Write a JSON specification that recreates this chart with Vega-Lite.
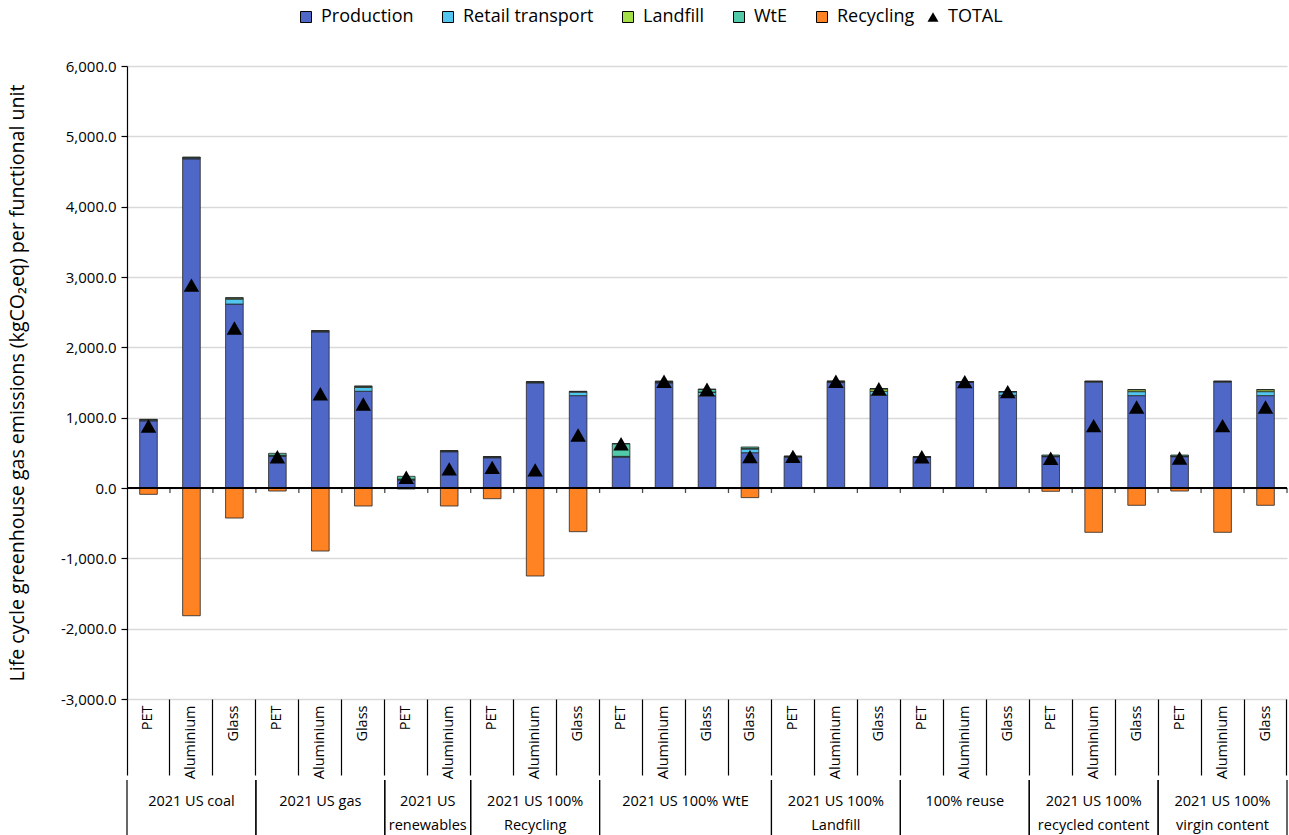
{
  "$schema": "https://vega.github.io/schema/vega-lite/v6.json",
  "padding": {"left": 7, "top": 8, "right": 2, "bottom": 0},
  "background": "white",
  "config": {"view": {"stroke": null}, "font": "Open Sans"},
  "spacing": 0,
  "datasets": {
    "bars": [
      {"key": "coal|PET", "i": 1, "Production": 955, "Retail transport": 10, "Landfill": 7, "WtE": 5, "Recycling": -90, "TOTAL": 882},
      {"key": "coal|Aluminium", "i": 2, "Production": 4680, "Retail transport": 12, "Landfill": 6, "WtE": 8, "Recycling": -1816, "TOTAL": 2885},
      {"key": "coal|Glass", "i": 3, "Production": 2615, "Retail transport": 71, "Landfill": 15, "WtE": 5, "Recycling": -427, "TOTAL": 2275},
      {"key": "gas|PET", "i": 4, "Production": 450, "Retail transport": 10, "Landfill": 5, "WtE": 28, "Recycling": -43, "TOTAL": 445},
      {"key": "gas|Aluminium", "i": 5, "Production": 2220, "Retail transport": 10, "Landfill": 5, "WtE": 2, "Recycling": -896, "TOTAL": 1340},
      {"key": "gas|Glass", "i": 6, "Production": 1375, "Retail transport": 55, "Landfill": 15, "WtE": 5, "Recycling": -256, "TOTAL": 1194},
      {"key": "renew|PET", "i": 7, "Production": 112, "Retail transport": 10, "Landfill": 4, "WtE": 40, "Recycling": -14, "TOTAL": 152},
      {"key": "renew|Aluminium", "i": 8, "Production": 515, "Retail transport": 10, "Landfill": 5, "WtE": 0, "Recycling": -256, "TOTAL": 272},
      {"key": "recyc|PET", "i": 9, "Production": 430, "Retail transport": 10, "Landfill": 6, "WtE": 0, "Recycling": -152, "TOTAL": 293},
      {"key": "recyc|Aluminium", "i": 10, "Production": 1495, "Retail transport": 10, "Landfill": 5, "WtE": 0, "Recycling": -1251, "TOTAL": 258},
      {"key": "recyc|Glass", "i": 11, "Production": 1313, "Retail transport": 50, "Landfill": 10, "WtE": 0, "Recycling": -621, "TOTAL": 754},
      {"key": "wte|PET", "i": 12, "Production": 440, "Retail transport": 10, "Landfill": 0, "WtE": 180, "Recycling": 0, "TOTAL": 630},
      {"key": "wte|Aluminium", "i": 13, "Production": 1495, "Retail transport": 10, "Landfill": 0, "WtE": 12, "Recycling": 0, "TOTAL": 1517},
      {"key": "wte|Glass", "i": 14, "Production": 1308, "Retail transport": 55, "Landfill": 0, "WtE": 40, "Recycling": 0, "TOTAL": 1403},
      {"key": "wte2|Glass", "i": 15, "Production": 502, "Retail transport": 52, "Landfill": 10, "WtE": 19, "Recycling": -137, "TOTAL": 446},
      {"key": "landfill|PET", "i": 16, "Production": 438, "Retail transport": 10, "Landfill": 2, "WtE": 0, "Recycling": 0, "TOTAL": 450},
      {"key": "landfill|Aluminium", "i": 17, "Production": 1500, "Retail transport": 10, "Landfill": 7, "WtE": 0, "Recycling": 0, "TOTAL": 1517},
      {"key": "landfill|Glass", "i": 18, "Production": 1320, "Retail transport": 55, "Landfill": 37, "WtE": 0, "Recycling": 0, "TOTAL": 1412},
      {"key": "reuse|PET", "i": 19, "Production": 435, "Retail transport": 10, "Landfill": 0, "WtE": 0, "Recycling": 0, "TOTAL": 445},
      {"key": "reuse|Aluminium", "i": 20, "Production": 1502, "Retail transport": 10, "Landfill": 0, "WtE": 0, "Recycling": 0, "TOTAL": 1512},
      {"key": "reuse|Glass", "i": 21, "Production": 1318, "Retail transport": 52, "Landfill": 0, "WtE": 0, "Recycling": 0, "TOTAL": 1370},
      {"key": "rc|PET", "i": 22, "Production": 445, "Retail transport": 10, "Landfill": 0, "WtE": 14, "Recycling": -47, "TOTAL": 422},
      {"key": "rc|Aluminium", "i": 23, "Production": 1505, "Retail transport": 10, "Landfill": 2, "WtE": 0, "Recycling": -630, "TOTAL": 887},
      {"key": "rc|Glass", "i": 24, "Production": 1313, "Retail transport": 57, "Landfill": 28, "WtE": 0, "Recycling": -246, "TOTAL": 1152},
      {"key": "vc|PET", "i": 25, "Production": 445, "Retail transport": 10, "Landfill": 0, "WtE": 14, "Recycling": -43, "TOTAL": 426},
      {"key": "vc|Aluminium", "i": 26, "Production": 1505, "Retail transport": 10, "Landfill": 2, "WtE": 0, "Recycling": -630, "TOTAL": 887},
      {"key": "vc|Glass", "i": 27, "Production": 1313, "Retail transport": 57, "Landfill": 28, "WtE": 0, "Recycling": -246, "TOTAL": 1152}
    ],
    "groups": [
      {"g": "2021 US coal", "s": 0, "e": 3, "m": 1.5},
      {"g": "2021 US gas", "s": 3, "e": 6, "m": 4.5},
      {"g": "2021 US\nrenewables", "s": 6, "e": 8, "m": 7},
      {"g": "2021 US 100%\nRecycling", "s": 8, "e": 11, "m": 9.5},
      {"g": "2021 US 100% WtE", "s": 11, "e": 15, "m": 13},
      {"g": "2021 US 100%\nLandfill", "s": 15, "e": 18, "m": 16.5},
      {"g": "100% reuse", "s": 18, "e": 21, "m": 19.5},
      {"g": "2021 US 100%\nrecycled content", "s": 21, "e": 24, "m": 22.5},
      {"g": "2021 US 100%\nvirgin content", "s": 24, "e": 27, "m": 25.5}
    ]
  },
  "vconcat": [
    {
      "width": 1160,
      "height": 633,
      "data": {"name": "bars"},
      "layer": [
        {
          "transform": [
            {"fold": ["Production", "Retail transport", "Landfill", "WtE", "Recycling"], "as": ["component", "value"]},
            {"window": [{"op": "row_number", "as": "k"}], "groupby": ["key"]}
          ],
          "mark": {"type": "bar", "stroke": "#262626", "strokeWidth": 0.8},
          "encoding": {
            "x": {
              "field": "key", "type": "nominal",
              "sort": {"field": "i", "op": "min"},
              "scale": {"paddingInner": 0.59, "paddingOuter": 0.295},
              "axis": {
                "title": null, "orient": "bottom", "domain": false, "grid": false,
                "labelExpr": "split(datum.label, '|')[1]",
                "labelAngle": -90, "labelAlign": "right", "labelBaseline": "middle",
                "labelFont": "Open Sans", "labelFontSize": 14.5, "labelColor": "black",
                "labelPadding": -70, "labelOverlap": false, "labelFlush": false,
                "tickSize": 76, "tickColor": "black", "tickWidth": 1.2, "bandPosition": -0.7195,
                "minExtent": 76, "maxExtent": 76
              }
            },
            "y": {
              "field": "value", "type": "quantitative",
              "scale": {"domain": [-3000, 6000], "nice": false, "zero": false},
              "axis": {
                "values": [-3000, -2000, -1000, 0, 1000, 2000, 3000, 4000, 5000, 6000],
                "format": ",.1f",
                "labelExpr": "replace(datum.label, '\u2212', '-')",
                "title": "Life cycle greenhouse gas emissions (kgCO₂eq) per functional unit",
                "titleFont": "Open Sans", "titleFontSize": 19.6, "titleFontWeight": "normal", "titleColor": "black",
                "titlePadding": 33,
                "grid": true, "gridColor": "#d9d9d9", "gridWidth": 1.3,
                "domainColor": "black", "domainWidth": 1.2,
                "tickColor": "black", "tickSize": 6, "tickWidth": 1.2,
                "labelFont": "Open Sans", "labelFontSize": 15, "labelColor": "black", "labelPadding": 5
              }
            },
            "color": {
              "field": "component", "type": "nominal",
              "scale": {
                "domain": ["Production", "Retail transport", "Landfill", "WtE", "Recycling"],
                "range": ["#4F67C7", "#53C6EF", "#A3E048", "#52C9A8", "#FF8223"]
              },
              "legend": {
                "orient": "none", "legendX": 170, "legendY": -58, "direction": "horizontal", "columns": 5,
                "title": null, "labelFont": "Open Sans", "labelFontSize": 18, "labelColor": "black",
                "symbolType": "square", "symbolSize": 121, "symbolStrokeColor": "black", "symbolStrokeWidth": 1,
                "symbolOpacity": 1, "labelOffset": 6, "columnPadding": 25
              }
            },
            "order": {"field": "k", "type": "quantitative"}
          }
        },
        {
          "mark": {"type": "rule", "color": "black", "strokeWidth": 1.6},
          "encoding": {"y": {"datum": 0}}
        },
        {
          "mark": {"type": "tick", "orient": "vertical", "color": "black", "size": 5, "thickness": 1.3, "yOffset": 2.5},
          "encoding": {
            "x": {
              "field": "key", "type": "nominal",
              "sort": {"field": "i", "op": "min"},
              "bandPosition": 1.7195,
              "axis": {
                "orient": "bottom", "title": null, "labels": false, "grid": false, "domain": false,
                "values": ["vc|Glass"], "bandPosition": 1.7195,
                "tickColor": "black", "tickWidth": 1.2, "tickSize": 76,
                "minExtent": 76, "maxExtent": 76
              }
            },
            "y": {"datum": 0}
          }
        },
        {
          "transform": [{"fold": ["TOTAL"], "as": ["component", "value"]}],
          "mark": {"type": "point", "filled": true, "color": "black", "opacity": 1, "size": 240},
          "encoding": {
            "x": {
              "field": "key", "type": "nominal",
              "sort": {"field": "i", "op": "min"},
              "axis": null
            },
            "y": {"field": "value", "type": "quantitative"},
            "shape": {
              "field": "component", "type": "nominal",
              "scale": {"domain": ["TOTAL"], "range": ["triangle-up"]},
              "legend": {
                "orient": "none", "legendX": 797, "legendY": -58, "direction": "horizontal",
                "title": null, "labelFont": "Open Sans", "labelFontSize": 18, "labelColor": "black",
                "symbolSize": 121, "symbolFillColor": "black", "symbolStrokeColor": "black", "symbolOpacity": 1,
                "labelOffset": 6
              }
            }
          }
        }
      ],
      "resolve": {"axis": {"x": "independent"}}
    },
    {
      "width": 1160,
      "height": 60,
      "data": {"name": "groups"},
      "layer": [
        {
          "mark": {"type": "rule", "color": "black", "strokeWidth": 1.2},
          "encoding": {
            "x": {"field": "s", "type": "quantitative", "scale": {"domain": [0, 27], "nice": false, "zero": false}, "axis": null}
          }
        },
        {
          "mark": {"type": "rule", "color": "black", "strokeWidth": 1.2},
          "encoding": {
            "x": {"field": "e", "type": "quantitative"}
          }
        },
        {
          "mark": {"type": "text", "baseline": "top", "dy": -15, "lineBreak": "\n", "lineHeight": 24, "fontSize": 14.5, "font": "Open Sans", "color": "black"},
          "encoding": {
            "x": {"field": "m", "type": "quantitative"},
            "text": {"field": "g"}
          }
        }
      ]
    }
  ]
}
